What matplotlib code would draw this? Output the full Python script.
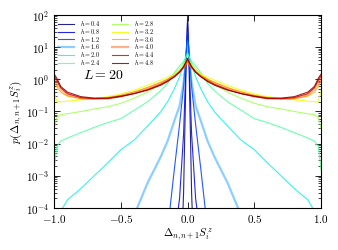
import numpy as np
import matplotlib
matplotlib.use('Agg')
import matplotlib.pyplot as plt

# histogram of nearest-neighbour magnetisation differences, L = 20
x = [-1.0, -0.98, -0.95, -0.9, -0.8, -0.7, -0.6, -0.5, -0.4, -0.3, -0.2, -0.15, -0.1, -0.06, -0.03, -0.01,
     0.0,
     0.01, 0.03, 0.06, 0.1, 0.15, 0.2, 0.3, 0.4, 0.5, 0.6, 0.7, 0.8, 0.9, 0.95, 0.98, 1.0]

h_values = [0.4, 0.8, 1.2, 1.6, 2.0, 2.4, 2.8, 3.2, 3.6, 4.0, 4.4, 4.8]

p_h04 = [1e-7, 1e-7, 1e-7, 1e-7, 1e-7, 1e-7, 1e-7, 1e-7, 1e-7, 1e-7, 1e-7, 1e-7, 1e-7, 1e-7, 3e-4, 4.0,
         90.0,
         4.0, 3e-4, 1e-7, 1e-7, 1e-7, 1e-7, 1e-7, 1e-7, 1e-7, 1e-7, 1e-7, 1e-7, 1e-7, 1e-7, 1e-7, 1e-7]
p_h08 = [1e-7, 1e-7, 1e-7, 1e-7, 1e-7, 1e-7, 1e-7, 1e-7, 1e-7, 1e-7, 1e-7, 1e-6, 1e-5, 2e-4, 0.02, 6.0,
         60.0,
         6.0, 0.02, 2e-4, 1e-5, 1e-6, 1e-7, 1e-7, 1e-7, 1e-7, 1e-7, 1e-7, 1e-7, 1e-7, 1e-7, 1e-7, 1e-7]
p_h12 = [1e-7, 1e-7, 1e-7, 1e-7, 1e-7, 1e-7, 1e-7, 1e-7, 1e-7, 1e-7, 1e-6, 2e-5, 1.5e-3, 0.04, 0.6, 8.0,
         30.0,
         8.0, 0.6, 0.04, 1.5e-3, 2e-5, 1e-6, 1e-7, 1e-7, 1e-7, 1e-7, 1e-7, 1e-7, 1e-7, 1e-7, 1e-7, 1e-7]
p_h16 = [1e-7, 1e-7, 1e-7, 1e-7, 1e-7, 1e-7, 1e-7, 1e-6, 6e-5, 6e-4, 4e-3, 0.012, 0.05, 0.15, 0.8, 6.0,
         15.0,
         6.0, 0.8, 0.15, 0.05, 0.012, 4e-3, 6e-4, 6e-5, 1e-6, 1e-7, 1e-7, 1e-7, 1e-7, 1e-7, 1e-7, 1e-7]
p_h20 = [1e-6, 3e-5, 8e-5, 1.8e-4, 4e-4, 1e-3, 2.5e-3, 6.5e-3, 0.013, 0.035, 0.1, 0.2, 0.5, 1.2, 3.0, 5.5,
         7.0,
         5.5, 3.0, 1.2, 0.5, 0.2, 0.1, 0.035, 0.013, 6.5e-3, 2.5e-3, 1e-3, 4e-4, 1.8e-4, 8e-5, 3e-5, 1e-6]
p_h24 = [1.5e-3, 8e-3, 0.012, 0.015, 0.022, 0.032, 0.045, 0.06, 0.11, 0.2, 0.45, 0.75, 1.6, 2.6, 3.6, 5.0,
         6.0,
         5.0, 3.6, 2.6, 1.6, 0.75, 0.45, 0.2, 0.11, 0.06, 0.045, 0.032, 0.022, 0.015, 0.012, 8e-3, 1.5e-3]
p_h28 = [0.03, 0.065, 0.08, 0.085, 0.1, 0.12, 0.14, 0.18, 0.26, 0.4, 0.7, 1.0, 1.5, 2.1, 3.0, 4.0,
         4.5,
         4.0, 3.0, 2.1, 1.5, 1.0, 0.7, 0.4, 0.26, 0.18, 0.14, 0.12, 0.1, 0.085, 0.08, 0.065, 0.03]
p_h32 = [0.45, 0.2, 0.2, 0.21, 0.23, 0.25, 0.29, 0.35, 0.46, 0.65, 0.95, 1.15, 1.4, 1.9, 2.6, 3.3,
         3.8,
         3.3, 2.6, 1.9, 1.4, 1.15, 0.95, 0.65, 0.46, 0.35, 0.29, 0.25, 0.23, 0.21, 0.2, 0.2, 0.45]
p_h36 = [0.9, 0.6, 0.4, 0.3, 0.25, 0.25, 0.27, 0.32, 0.41, 0.56, 0.82, 1.0, 1.3, 1.75, 2.3, 3.0,
         3.5,
         3.0, 2.3, 1.75, 1.3, 1.0, 0.82, 0.56, 0.41, 0.32, 0.27, 0.25, 0.25, 0.3, 0.4, 0.6, 0.9]
p_h40 = [1.1, 0.8, 0.5, 0.33, 0.26, 0.25, 0.26, 0.3, 0.38, 0.51, 0.75, 0.95, 1.25, 1.7, 2.3, 3.1,
         3.7,
         3.1, 2.3, 1.7, 1.25, 0.95, 0.75, 0.51, 0.38, 0.3, 0.26, 0.25, 0.26, 0.33, 0.5, 0.8, 1.1]
p_h44 = [1.3, 0.95, 0.55, 0.36, 0.27, 0.25, 0.25, 0.29, 0.36, 0.48, 0.7, 0.9, 1.2, 1.65, 2.4, 3.4,
         4.1,
         3.4, 2.4, 1.65, 1.2, 0.9, 0.7, 0.48, 0.36, 0.29, 0.25, 0.25, 0.27, 0.36, 0.55, 0.95, 1.3]
p_h48 = [1.45, 1.1, 0.6, 0.4, 0.29, 0.26, 0.26, 0.3, 0.36, 0.46, 0.66, 0.85, 1.2, 1.7, 2.5, 3.6,
         4.5,
         3.6, 2.5, 1.7, 1.2, 0.85, 0.66, 0.46, 0.36, 0.3, 0.26, 0.26, 0.29, 0.4, 0.6, 1.1, 1.45]

curves = [p_h04, p_h08, p_h12, p_h16, p_h20, p_h24, p_h28, p_h32, p_h36, p_h40, p_h44, p_h48]

plt.rcParams['font.family'] = 'cmr10'
plt.rcParams['mathtext.fontset'] = 'cm'
plt.rcParams['axes.formatter.use_mathtext'] = True
plt.rcParams['font.size'] = 8

fig = plt.figure(figsize=(3.38, 2.5), dpi=100)
ax = fig.add_axes([0.16, 0.168, 0.79, 0.772])

colors = plt.cm.jet(np.linspace(0, 1, len(h_values)))
for i, (h, p) in enumerate(zip(h_values, curves)):
    if h in (1.6, 4.0):
        lw, alpha = 1.6, 0.45
    else:
        lw, alpha = 0.8, 0.85
    ax.plot(x, p, color=colors[i], lw=lw, alpha=alpha, label=r'$h=%.1f$' % h)

ax.set_yscale('log')
ax.set_xlim(-1, 1)
ax.set_ylim(1e-4, 1e2)
ax.set_xticks([-1.0, -0.5, 0.0, 0.5, 1.0])
ax.set_xticklabels(['$-1.0$', '$-0.5$', '$0.0$', '$0.5$', '$1.0$'])
ax.tick_params(which='both', direction='in', top=True, right=True, labelsize=8)
ax.tick_params(which='major', length=4, width=0.6)
ax.tick_params(which='minor', length=2, width=0.5)
for s in ax.spines.values():
    s.set_linewidth(0.8)

ax.set_xlabel(r'$\Delta_{n,n+1}S_i^z$', fontsize=8, labelpad=1)
ax.set_ylabel(r'$p(\Delta_{n,n+1}S_i^z)$', fontsize=8, labelpad=1)

ax.text(-0.78, 1.05, r'$L=20$', fontsize=10)

ax.legend(loc='upper left', ncol=2, fontsize=4.5, frameon=False, handlelength=2.6,
          labelspacing=-0.2, columnspacing=1.8, borderaxespad=0.25, handletextpad=0.9)

fig.savefig('out.png', dpi=100)
